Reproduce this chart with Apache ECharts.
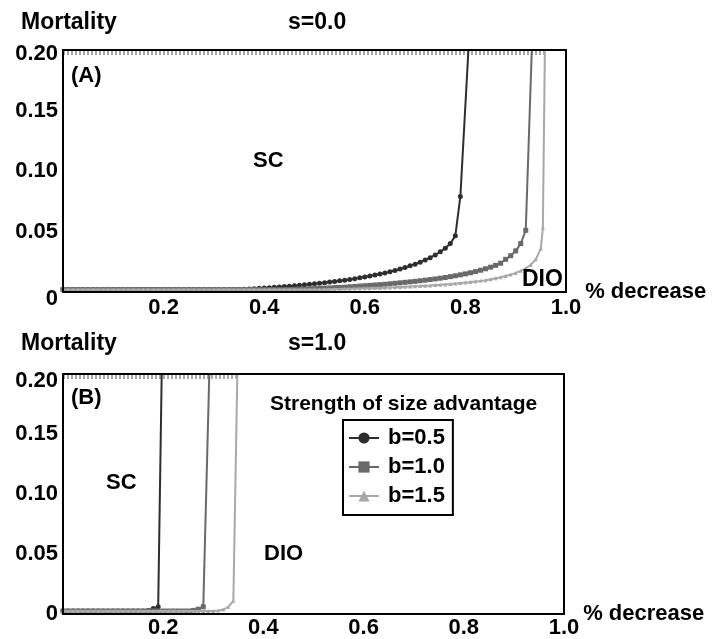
<!DOCTYPE html>
<html>
<head>
    <meta charset="utf-8" />
    <title>Mortality vs % decrease</title>
    <script src="https://cdn.jsdelivr.net/npm/echarts@6.0.0/dist/echarts.min.js"></script>
    <style>
        * { margin: 0; padding: 0; box-sizing: border-box; }
        body { background: #fff; }
        #chart { width: 713px; height: 639px; }
    </style>
</head>
<body>
    <div id="chart"></div>

    <script>
        // 数据: mortality at each 0.01 step of % decrease, then the jump to the top
        const xStep = 0.01;
        const seriesNames = ['b=0.5', 'b=1.0', 'b=1.5'];
        const xTicks = [0, 0.2, 0.4, 0.6, 0.8, 1.0];
        const yTicks = [0, 0.05, 0.10, 0.15, 0.20];

        // panel A, s=0.0
        const a05 = [0.002, 0.002, 0.002, 0.002, 0.002, 0.002, 0.002, 0.002, 0.002, 0.002,
            0.002, 0.002, 0.002, 0.002, 0.002, 0.002, 0.002, 0.002, 0.002, 0.002,
            0.002, 0.002, 0.002, 0.002, 0.002, 0.002, 0.002, 0.002, 0.002, 0.002,
            0.002, 0.002, 0.002, 0.002, 0.002, 0.0021, 0.0023, 0.0025, 0.0027, 0.003,
            0.0033, 0.0036, 0.0039, 0.0042, 0.0045, 0.0048, 0.0052, 0.0056, 0.006, 0.0064,
            0.0068, 0.0072, 0.0077, 0.0082, 0.0087, 0.0092, 0.0098, 0.0104, 0.011, 0.0117,
            0.0124, 0.0132, 0.014, 0.0149, 0.0158, 0.0168, 0.0178, 0.019, 0.0202, 0.0216,
            0.023, 0.0246, 0.0264, 0.0284, 0.0306, 0.0332, 0.0362, 0.04, 0.0465, 0.079];
        const a05Tail = [[0.806, 0.2]];

        const a10 = [0.002, 0.002, 0.002, 0.002, 0.002, 0.002, 0.002, 0.002, 0.002, 0.002,
            0.002, 0.002, 0.002, 0.002, 0.002, 0.002, 0.002, 0.002, 0.002, 0.002,
            0.002, 0.002, 0.002, 0.002, 0.002, 0.002, 0.002, 0.002, 0.002, 0.002,
            0.002, 0.002, 0.002, 0.002, 0.002, 0.002, 0.002, 0.002, 0.002, 0.002,
            0.002, 0.002, 0.002, 0.002, 0.002, 0.002, 0.0021, 0.0022, 0.0024, 0.0026,
            0.0028, 0.003, 0.0032, 0.0034, 0.0036, 0.0038, 0.004, 0.0043, 0.0046, 0.0049,
            0.0052, 0.0055, 0.0058, 0.0061, 0.0064, 0.0068, 0.0072, 0.0076, 0.008, 0.0084,
            0.0088, 0.0093, 0.0098, 0.0103, 0.0108, 0.0114, 0.012, 0.0127, 0.0134, 0.0142,
            0.015, 0.0159, 0.0169, 0.018, 0.0192, 0.0205, 0.022, 0.0238, 0.027, 0.030,
            0.034, 0.040, 0.051];
        const a10Tail = [[0.932, 0.2]];

        const a15 = [0.002, 0.002, 0.002, 0.002, 0.002, 0.002, 0.002, 0.002, 0.002, 0.002,
            0.002, 0.002, 0.002, 0.002, 0.002, 0.002, 0.002, 0.002, 0.002, 0.002,
            0.002, 0.002, 0.002, 0.002, 0.002, 0.002, 0.002, 0.002, 0.002, 0.002,
            0.002, 0.002, 0.002, 0.002, 0.002, 0.002, 0.002, 0.002, 0.002, 0.002,
            0.002, 0.002, 0.002, 0.002, 0.002, 0.002, 0.002, 0.002, 0.002, 0.002,
            0.002, 0.0021, 0.0022, 0.0023, 0.0024, 0.0025, 0.0026, 0.0027, 0.0028, 0.0029,
            0.003, 0.0031, 0.0033, 0.0034, 0.0035, 0.0037, 0.0039, 0.0041, 0.0043, 0.0045,
            0.0047, 0.0049, 0.0052, 0.0054, 0.0057, 0.006, 0.0063, 0.0066, 0.007, 0.0074,
            0.0078, 0.0082, 0.0087, 0.0092, 0.0098, 0.0105, 0.0113, 0.0122, 0.0132, 0.0144,
            0.0158, 0.0175, 0.0196, 0.0225, 0.027, 0.036];
        const a15Tail = [[0.954, 0.053], [0.958, 0.2]];

        // panel B, s=1.0
        const b05 = [0.0025, 0.0025, 0.0025, 0.0025, 0.0025, 0.0025, 0.0025, 0.0025, 0.0025, 0.0025,
            0.0025, 0.0025, 0.0025, 0.0025, 0.0025, 0.0025, 0.0025, 0.003, 0.0045, 0.006];
        const b05Tail = [[0.197, 0.2]];

        const b10 = [0.0025, 0.0025, 0.0025, 0.0025, 0.0025, 0.0025, 0.0025, 0.0025, 0.0025, 0.0025,
            0.0025, 0.0025, 0.0025, 0.0025, 0.0025, 0.0025, 0.0025, 0.0025, 0.0025, 0.0025,
            0.0025, 0.0025, 0.0025, 0.0025, 0.0025, 0.0025, 0.003, 0.004, 0.006];
        const b10Tail = [[0.292, 0.2]];

        const b15 = [0.0025, 0.0025, 0.0025, 0.0025, 0.0025, 0.0025, 0.0025, 0.0025, 0.0025, 0.0025,
            0.0025, 0.0025, 0.0025, 0.0025, 0.0025, 0.0025, 0.0025, 0.0025, 0.0025, 0.0025,
            0.0025, 0.0025, 0.0025, 0.0025, 0.0025, 0.0025, 0.0025, 0.0025, 0.0025, 0.0025,
            0.0025, 0.003, 0.0037, 0.006, 0.011];
        const b15Tail = [[0.348, 0.2]];

        // the row of markers just under the top border
        const topRowValue = 0.198;

        const FONT = "'Liberation Sans', Arial, sans-serif";
        const colors = ['#2e2e2e', '#696969', '#a8a8a8'];
        const symbols = ['circle', 'rect', 'triangle'];
        const symbolSizes = [5, 5, 4];

        const chart = echarts.init(document.getElementById('chart'));

        function toPoints(vals, tail) {
            const pts = vals.map((v, i) => [+(i * xStep).toFixed(2), v]);
            // the point where the curve leaves the top has no marker
            const end = tail.map((p, j) => j === tail.length - 1 ? { value: p, symbolSize: 0 } : p);
            return pts.concat(end);
        }

        function panelSeries(gi, sets) {
            const main = [];
            const rows = [];
            sets.forEach((s, k) => {
                const pts = toPoints(s[0], s[1]);
                const lastX = s[1][s[1].length - 1][0];
                main.push({
                    name: seriesNames[k],
                    type: 'line',
                    xAxisIndex: gi * 2,
                    yAxisIndex: gi * 2,
                    data: pts,
                    symbol: symbols[k],
                    symbolSize: symbolSizes[k],
                    showAllSymbol: true,
                    z: 2 + k,
                    itemStyle: { color: colors[k] },
                    lineStyle: { color: colors[k], width: 2 },
                    animation: false
                });
                rows.push({
                    type: 'line',
                    xAxisIndex: gi * 2,
                    yAxisIndex: gi * 2,
                    data: [[0, topRowValue], [lastX, topRowValue]],
                    symbol: 'none',
                    silent: true,
                    z: 1,
                    lineStyle: { color: colors[k], width: 5, type: [2, 2] },
                    animation: false
                });
            });
            return main.concat(rows);
        }

        const labelStyle = { color: '#000', fontSize: 22, fontWeight: 'bold', fontFamily: FONT };

        function xAxes(gi, margin) {
            return [{
                gridIndex: gi, type: 'value', min: xTicks[0], max: xTicks[xTicks.length - 1], interval: 0.2,
                position: 'bottom', z: 10,
                name: '% decrease', nameLocation: 'end', nameGap: 15,
                nameTextStyle: { color: '#000', fontSize: 22, fontWeight: 'bold', fontFamily: FONT, verticalAlign: 'middle' },
                axisLine: { lineStyle: { color: '#000', width: 2 } },
                axisTick: { show: false },
                splitLine: { show: false },
                axisLabel: Object.assign({ margin: margin, formatter: v => v === 0 ? '' : v.toFixed(1) }, labelStyle)
            }, {
                gridIndex: gi, type: 'value', min: 0, max: 1, position: 'top', z: 10,
                axisLine: { onZero: false, lineStyle: { color: '#000', width: 2 } },
                axisTick: { show: false }, axisLabel: { show: false }, splitLine: { show: false }
            }];
        }

        // labels at the ends of the y axis sit a little lower in the original
        function yAxes(gi, topShift, zeroShift) {
            return [{
                gridIndex: gi, type: 'value', min: yTicks[0], max: yTicks[yTicks.length - 1], interval: 0.05,
                position: 'left', z: 10,
                axisLine: { show: true, lineStyle: { color: '#000', width: 2 } },
                axisTick: { show: false },
                splitLine: { show: false },
                axisLabel: Object.assign({
                    margin: 5,
                    formatter: v => v === 0 ? '{z|0}' : (v >= 0.2 ? '{t|' + v.toFixed(2) + '}' : v.toFixed(2)),
                    rich: {
                        z: Object.assign({ padding: [zeroShift * 2, 0, 0, 0] }, labelStyle),
                        t: Object.assign({ padding: [topShift * 2, 0, 0, 0] }, labelStyle)
                    }
                }, labelStyle)
            }, {
                gridIndex: gi, type: 'value', min: 0, max: 0.2, position: 'right', z: 10,
                axisLine: { show: true, onZero: false, lineStyle: { color: '#000', width: 2 } },
                axisTick: { show: false }, axisLabel: { show: false }, splitLine: { show: false }
            }];
        }

        function txt(text, x, y, size) {
            return {
                type: 'text', x: x, y: y, z: 20,
                style: {
                    text: text, fill: '#000', font: 'bold ' + (size || 22) + 'px ' + FONT,
                    align: 'left', verticalAlign: 'middle'
                }
            };
        }

        const option = {
            backgroundColor: '#fff',
            animation: false,
            grid: [
                { left: 63, top: 50, width: 503, height: 242 },
                { left: 63, top: 374, width: 501, height: 243 }
            ],
            xAxis: xAxes(0, 5).concat(xAxes(1, 3)),
            yAxis: yAxes(0, 4, 7).concat(yAxes(1, 7, 0)),
            legend: {
                data: seriesNames,
                orient: 'vertical',
                left: 343,
                top: 420,
                borderColor: '#000',
                borderWidth: 2,
                padding: [7, 8, 8, 5],
                itemGap: 7,
                itemWidth: 30,
                itemHeight: 14,
                textStyle: { color: '#000', fontSize: 22, fontWeight: 'bold', fontFamily: FONT, padding: [0, 0, 0, 4] }
            },
            graphic: [
                txt('Mortality', 21, 23, 23),
                txt('s=0.0', 288, 23, 23),
                txt('(A)', 71, 76),
                txt('SC', 253, 161),
                txt('DIO', 522, 280, 23),
                txt('Mortality', 21, 344, 23),
                txt('s=1.0', 288, 344, 23),
                txt('(B)', 71, 398),
                txt('SC', 106, 483),
                txt('DIO', 264, 554),
                txt('Strength of size advantage', 270, 404, 21)
            ],
            series: panelSeries(0, [[a05, a05Tail], [a10, a10Tail], [a15, a15Tail]])
                .concat(panelSeries(1, [[b05, b05Tail], [b10, b10Tail], [b15, b15Tail]]))
        };

        chart.setOption(option);

        window.addEventListener('resize', function () {
            chart.resize();
        });
    </script>
</body>
</html>
